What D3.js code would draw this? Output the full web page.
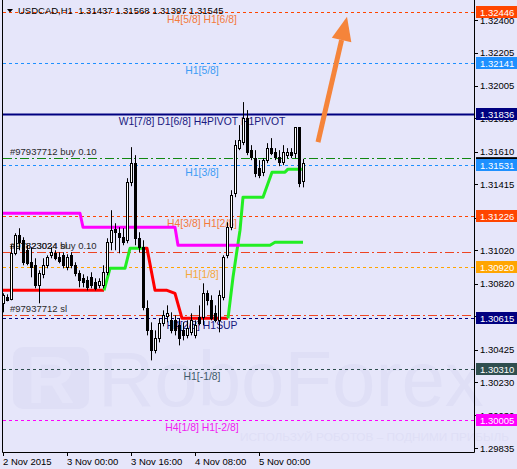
<!DOCTYPE html>
<html>
<head>
<meta charset="utf-8">
<script src="https://cdn.jsdelivr.net/npm/d3@7"></script>
<style>
  body { margin: 0; background: #e6e6fa; }
  svg { display: block; font-family: "Liberation Sans", Arial, sans-serif; }
</style>
</head>
<body>
<svg id="chart" width="517" height="469"></svg>
<script>
// USDCAD H1 candles, 2 Nov 2015 08:00 onwards
var open = [1.30702,1.30738,1.30726,1.31002,1.31110,1.31080,1.31020,1.30948,1.30930,1.30810,
  1.30876,1.30930,1.30990,1.31002,1.30978,1.30990,1.30918,1.30990,1.30930,1.30882,
  1.30852,1.30840,1.30858,1.30828,1.30810,1.30810,1.30888,1.31068,1.31146,1.31122,
  1.31098,1.31080,1.31428,1.31542,1.31092,1.31038,1.30672,1.30540,1.30420,1.30492,
  1.30582,1.30624,1.30600,1.30600,1.30570,1.30540,1.30510,1.30528,1.30510,1.30618,
  1.30618,1.30762,1.30720,1.30642,1.30600,1.30738,1.30990,1.31158,1.31362,1.31632,
  1.31668,1.31812,1.31620,1.31572,1.31512,1.31488,1.31560,1.31632,1.31608,1.31578,
  1.31548,1.31590,1.31608,1.31602,1.31758,1.31437];
var high = [1.30762,1.30756,1.31050,1.31122,1.31152,1.31098,1.31050,1.31038,1.30972,1.30900,
  1.30972,1.30990,1.31038,1.31020,1.31008,1.31008,1.30996,1.31008,1.30948,1.30900,
  1.30876,1.30864,1.30888,1.30852,1.30852,1.30930,1.31092,1.31260,1.31182,1.31158,
  1.31152,1.31452,1.31638,1.31590,1.31128,1.31080,1.30720,1.30588,1.30540,1.30612,
  1.30660,1.30690,1.30648,1.30630,1.30612,1.30588,1.30600,1.30642,1.30600,1.30690,
  1.30822,1.30780,1.30750,1.30690,1.30780,1.30990,1.31188,1.31380,1.31680,1.31770,
  1.31908,1.31860,1.31650,1.31620,1.31560,1.31572,1.31662,1.31692,1.31632,1.31620,
  1.31650,1.31632,1.31632,1.31758,1.31758,1.31568];
var low = [1.30648,1.30714,1.30720,1.30990,1.31020,1.30930,1.30930,1.30858,1.30792,1.30702,
  1.30852,1.30912,1.30972,1.30960,1.30942,1.30912,1.30900,1.30912,1.30864,1.30798,
  1.30798,1.30780,1.30792,1.30780,1.30792,1.30792,1.30870,1.31020,1.31020,1.31002,
  1.31050,1.31062,1.31404,1.31050,1.31008,1.30660,1.30510,1.30360,1.30402,1.30468,
  1.30564,1.30588,1.30522,1.30510,1.30450,1.30480,1.30492,1.30510,1.30492,1.30570,
  1.30570,1.30690,1.30600,1.30588,1.30528,1.30720,1.30972,1.31140,1.31338,1.31620,
  1.31650,1.31590,1.31560,1.31458,1.31452,1.31464,1.31542,1.31590,1.31560,1.31524,
  1.31530,1.31572,1.31572,1.31572,1.31398,1.31397];
var close = [1.30750,1.30720,1.31002,1.31110,1.31068,1.30948,1.30942,1.30918,1.30810,1.30882,
  1.30930,1.30978,1.31008,1.30972,1.30954,1.30930,1.30978,1.30930,1.30882,1.30840,
  1.30828,1.30798,1.30810,1.30792,1.30834,1.30888,1.31068,1.31140,1.31128,1.31098,
  1.31068,1.31428,1.31542,1.31092,1.31038,1.30678,1.30540,1.30420,1.30492,1.30582,
  1.30630,1.30642,1.30540,1.30540,1.30492,1.30510,1.30552,1.30600,1.30570,1.30582,
  1.30762,1.30720,1.30612,1.30600,1.30750,1.30978,1.31158,1.31350,1.31650,1.31680,
  1.31812,1.31608,1.31578,1.31482,1.31470,1.31560,1.31632,1.31602,1.31578,1.31548,
  1.31608,1.31608,1.31590,1.31758,1.31422,1.31545];

// time axis labels and the bar they sit on
var timeLabels = ["2 Nov 2015", "3 Nov 00:00", "3 Nov 16:00", "4 Nov 08:00", "5 Nov 00:00"];
var timeBars = [0, 16, 32, 48, 64];

// price axis ticks
var priceTicks = [1.32400,1.32205,1.32005,1.31810,1.31610,1.31415,1.31215,1.31020,
  1.30820,1.30625,1.30425,1.30230,1.30030,1.29835];

// murrey levels
var levelPrices = [1.32446, 1.32141, 1.31836, 1.31531, 1.31226, 1.30920, 1.30615, 1.30310, 1.30005];
var levelNames = ["H4[5/8] H1[6/8]", "H1[5/8]", "W1[7/8] D1[6/8] H4PIVOT H1PIVOT", "H1[3/8]",
  "H4[3/8] H1[2/8]", "H1[1/8]", "H4[2/8] H1SUP", "H1[-1/8]", "H4[1/8] H1[-2/8]"];

// open orders
var orderPrices = [1.31572, 1.31012, 1.31012, 1.30630];
var orderNames = ["#97937712 buy 0.10", "#97823024 buy 0.10", "#97823024 sl", "#97937712 sl"];
var orderTypes = ["buy", "buy", "sl", "sl"];
var hiddenOrderLabel = 1.31572;

// trend indicator lines as [bar, price]
var trendFast = [
  {dir: "down", pts: [[0,1.30780],[25.25,1.30780]]},
  {dir: "up", pts: [[25.25,1.30780],[26.75,1.30912],[30.5,1.30912],[31.75,1.31032],[35.5,1.31032]]},
  {dir: "down", pts: [[35.5,1.31032],[36,1.31032],[38,1.30780],[41,1.30780],[43,1.30762],[44.75,1.30612],[56.25,1.30612]]},
  {dir: "up", pts: [[56.25,1.30612],[57.5,1.30858],[58.5,1.31020],[59.25,1.31140],[60,1.31338],[65,1.31338],[67.25,1.31488],[70.5,1.31488],[71.25,1.31506],[75,1.31506]]}
];
var trendSlow = [
  {dir: "down", pts: [[0,1.31242],[19.25,1.31242],[20,1.31158],[43,1.31158],[43.75,1.31050],[59.25,1.31050]]},
  {dir: "up", pts: [[59.25,1.31050],[66.75,1.31050],[68,1.31068],[75,1.31068]]}
];

// forecast arrow [bar, price]
var arrowFrom = [78.75, 1.31668];
var arrowTo = [86, 1.32420];

var header = "USDCAD,H1  " + [open[75], high[75], low[75], close[75]].map(d3.format(".5f")).join(" ");

// ---- drawing ----
var plot = {left: 3, right: 474, bottom: 452};
var svg = d3.select("#chart");

var x = d3.scaleLinear().domain([0, 75]).range([3, 303]);
var y = d3.scaleLinear().domain([1.29835, 1.32400]).range([448, 20]);
var fmt = d3.format(".5f");

var levelColors = ["#ff4500", "#1e90ff", "#000080", "#1e90ff", "#ff4500", "#ffa500", "#000080", "#2f4f4f", "#ff00ff"];
var levelText = ["#f47a3a", "#3d9cf5", "#1a1a80", "#3d9cf5", "#f47a3a", "#f5a83a", "#1a1a80", "#3f5a6a", "#f020f0"];
var trendColors = {fast: {down: "#ff0000", up: "#22ee22"}, slow: {down: "#ff00ff", up: "#22ee22"}};

svg.append("rect").attr("width", 517).attr("height", 469).attr("fill", "#e6e6fa");

// watermark
var wm = svg.append("g").attr("fill", "#dfdff6");
wm.append("rect").attr("x", 13).attr("y", 347).attr("width", 76).attr("height", 62).attr("rx", 10);
wm.append("text").attr("x", 27).attr("y", 403).attr("font-size", 66).attr("font-weight", "bold")
  .attr("fill", "#e4e4f9").text("R");
wm.append("text").attr("x", 98).attr("y", 406).attr("font-size", 78).text("RoboForex");
wm.append("text").attr("x", 240).attr("y", 441).attr("font-size", 11.8).text("ИСПОЛЬЗУЙ РОБОТОВ – ПОДНИМИ ПРИБЫЛЬ");

svg.append("clipPath").attr("id", "clip")
  .append("rect").attr("x", plot.left).attr("y", 0).attr("width", plot.right - plot.left).attr("height", plot.bottom);

var g = svg.append("g").attr("clip-path", "url(#clip)");

// level lines
g.selectAll(".level").data(levelPrices).enter().append("line")
  .attr("x1", plot.left).attr("x2", plot.right)
  .attr("y1", function(d) { return Math.round(y(d)) + 0.5; })
  .attr("y2", function(d) { return Math.round(y(d)) + 0.5; })
  .attr("stroke", function(d, i) { return levelColors[i]; })
  .attr("stroke-width", function(d, i) { return i == 2 ? 2 : 1; })
  .attr("stroke-dasharray", function(d, i) { return i == 2 ? null : "3,3"; });

// order lines
g.selectAll(".order").data(orderPrices).enter().append("line")
  .attr("x1", plot.left).attr("x2", plot.right)
  .attr("y1", function(d) { return Math.round(y(d)) + 0.5; })
  .attr("y2", function(d) { return Math.round(y(d)) + 0.5; })
  .attr("stroke", function(d, i) { return orderTypes[i] == "buy" ? "#118811" : "#ee4422"; })
  .attr("stroke-dasharray", "9,3,2,3");

// level names
g.selectAll(".lname").data(levelNames).enter().append("text")
  .attr("x", 202).attr("y", function(d, i) { return y(levelPrices[i]) + 11; })
  .attr("text-anchor", "middle").attr("font-size", 10.4)
  .attr("fill", function(d, i) { return levelText[i]; })
  .text(function(d) { return d; });

// order names
g.selectAll(".oname").data(orderNames).enter().append("text")
  .attr("x", 10).attr("y", function(d, i) { return y(orderPrices[i]) - 3; })
  .attr("font-size", 9.5).attr("fill", "#2a2a2a")
  .text(function(d) { return d; });

// trend lines
var line = d3.line().x(function(d) { return x(d[0]); }).y(function(d) { return y(d[1]); });
[["fast", trendFast], ["slow", trendSlow]].forEach(function(t) {
  g.selectAll(null).data(t[1]).enter().append("path")
    .attr("d", function(d) { return line(d.pts); })
    .attr("fill", "none").attr("stroke-width", 3).attr("stroke-linejoin", "round")
    .attr("stroke", function(d) { return trendColors[t[0]][d.dir]; });
});

// candles
var bars = d3.range(open.length);
var cg = g.selectAll(".candle").data(bars).enter().append("g");
cg.append("line")
  .attr("x1", function(i) { return Math.round(x(i)) + 0.5; })
  .attr("x2", function(i) { return Math.round(x(i)) + 0.5; })
  .attr("y1", function(i) { return y(high[i]); })
  .attr("y2", function(i) { return y(low[i]); })
  .attr("stroke", "#000");
cg.append("rect")
  .attr("x", function(i) { return Math.round(x(i)) - 0.5; })
  .attr("width", 2)
  .attr("y", function(i) { return Math.round(y(Math.max(open[i], close[i]))) + 0.5; })
  .attr("height", function(i) { return Math.max(1, Math.round(y(Math.min(open[i], close[i])) - y(Math.max(open[i], close[i])))); })
  .attr("fill", function(i) { return close[i] >= open[i] ? "#fff" : "#000"; })
  .attr("stroke", "#000");

// arrow
var ax1 = x(arrowFrom[0]), ay1 = y(arrowFrom[1]), ax2 = x(arrowTo[0]), ay2 = y(arrowTo[1]);
var ang = Math.atan2(ay2 - ay1, ax2 - ax1);
var headLen = 24, headW = 10;
var bx = ax2 - headLen * Math.cos(ang), by = ay2 - headLen * Math.sin(ang);
svg.append("line").attr("x1", ax1).attr("y1", ay1).attr("x2", bx).attr("y2", by)
  .attr("stroke", "#f5843a").attr("stroke-width", 5);
svg.append("path")
  .attr("d", "M" + ax2 + "," + ay2 +
    "L" + (bx + headW * Math.sin(ang)) + "," + (by - headW * Math.cos(ang)) +
    "L" + (bx - headW * Math.sin(ang)) + "," + (by + headW * Math.cos(ang)) + "Z")
  .attr("fill", "#f5843a");

// frame
svg.append("path")
  .attr("d", "M" + (plot.left - 0.5) + ",0V" + (plot.bottom + 0.5) + "H" + (plot.right + 0.5) + "V0")
  .attr("fill", "none").attr("stroke", "#000");

// price axis, skipping tick labels that sit right under a level label
var shownTicks = priceTicks.filter(function(t) {
  return !levelPrices.some(function(l) { return Math.abs(y(l) - y(t)) < 3; });
});
var pa = svg.append("g");
pa.selectAll("line").data(priceTicks).enter().append("line")
  .attr("x1", plot.right).attr("x2", plot.right + 4)
  .attr("y1", function(d) { return Math.round(y(d)) + 0.5; })
  .attr("y2", function(d) { return Math.round(y(d)) + 0.5; })
  .attr("stroke", "#000");
pa.selectAll("text").data(shownTicks).enter().append("text")
  .attr("x", 480).attr("y", function(d) { return y(d) + 3.5; })
  .attr("font-size", 9.5).attr("fill", "#000")
  .text(fmt);

// hidden order price label (mostly under the H1[3/8] label)
svg.append("rect").attr("x", 476).attr("y", y(hiddenOrderLabel) - 1).attr("width", 41).attr("height", 12).attr("fill", "#000");

var lb = svg.selectAll(".lbox").data(levelPrices).enter().append("g");
lb.append("rect").attr("x", 476).attr("width", 41).attr("height", 12)
  .attr("y", function(d) { return Math.round(y(d)) - 6; })
  .attr("fill", function(d, i) { return levelColors[i]; });
lb.append("text").attr("x", 480).attr("y", function(d) { return Math.round(y(d)) + 3.5; })
  .attr("font-size", 9.5).attr("fill", "#fff").text(fmt);

// time axis
var ta = svg.append("g");
ta.selectAll("line").data(timeBars).enter().append("line")
  .attr("x1", function(d) { return Math.round(x(d)) + 0.5; })
  .attr("x2", function(d) { return Math.round(x(d)) + 0.5; })
  .attr("y1", plot.bottom).attr("y2", plot.bottom + 4).attr("stroke", "#000");
ta.selectAll("text").data(timeLabels).enter().append("text")
  .attr("x", function(d, i) { return x(timeBars[i]); })
  .attr("y", 465).attr("font-size", 9.5).attr("fill", "#000")
  .text(function(d) { return d; });

// header
svg.append("path").attr("d", "M7,9L13,9L10,12.5Z").attr("fill", "#000");
svg.append("text").attr("x", 18).attr("y", 14).attr("font-size", 9.5).attr("fill", "#000")
  .style("white-space", "pre").text(header);
</script>
</body>
</html>
